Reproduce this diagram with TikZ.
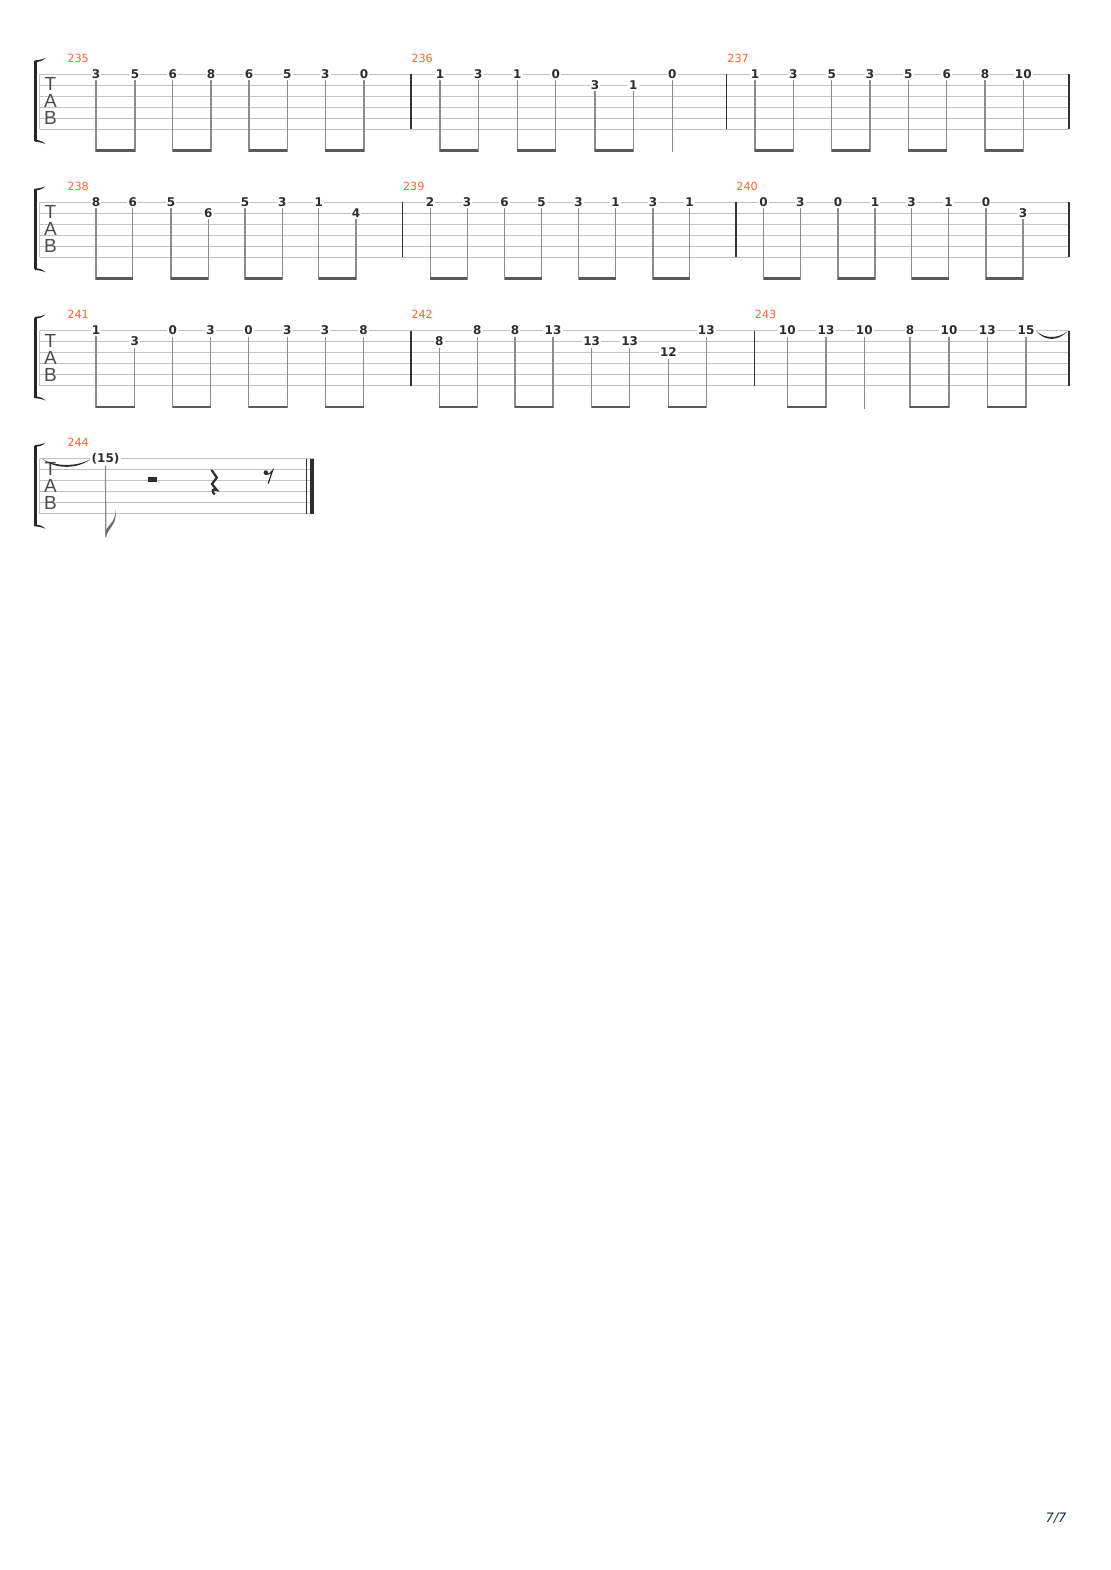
\documentclass[tikz,border=0pt]{standalone}
\usepackage{fontspec}
\setmainfont{DejaVu Sans}
\newfontfamily\tabfont{Liberation Sans}
\definecolor{barno}{RGB}{255,102,51}
\definecolor{fretink}{RGB}{45,45,45}
\definecolor{staffgray}{RGB}{195,195,195}
\definecolor{stemgray}{RGB}{140,140,140}
\definecolor{beamgray}{RGB}{90,90,90}
\definecolor{pageno}{RGB}{30,40,70}
\tikzset{
  fret/.style={font=\bfseries\fontsize{6}{7}\selectfont, text=fretink, fill=white, inner sep=0.6pt},
  barnum/.style={font=\fontsize{5.6}{6.5}\selectfont, text=barno, anchor=west, inner sep=0pt},
  tabletter/.style={font=\tabfont\fontsize{9.5}{10}\selectfont, text=black!70, inner sep=0pt},
  staffline/.style={staffgray, line width=0.5pt},
  stemline/.style={stemgray, line width=0.6pt},
  beamline/.style={beamgray, line width=1.3pt},
  barline/.style={black!80, line width=0.55pt},
  bracketline/.style={black!85, line width=1.4pt}
}
% one tab staff: #1 top line, #2 right end
\newcommand\tabstaff[2]{%
  \foreach \k in {0,...,5}
    \draw[staffline] (39.5,{#1+11*\k}) -- (#2,{#1+11*\k});
  \draw[staffline] (39.5,#1) -- (39.5,{#1+55});
  \draw[bracketline] (35.5,{#1-13}) -- (35.5,{#1+67});
  \fill[black!85] (34.8,{#1-13.7}) .. controls (38,{#1-13.7}) and (42,{#1-14.5}) .. (45.5,{#1-16}) .. controls (42,{#1-12.5}) and (38,{#1-12}) .. (34.8,{#1-12}) -- cycle;
  \fill[black!85] (34.8,{#1+67.7}) .. controls (38,{#1+67.7}) and (42,{#1+68.5}) .. (45.5,{#1+70}) .. controls (42,{#1+66.5}) and (38,{#1+66}) .. (34.8,{#1+66}) -- cycle;
  \node[tabletter] (T) at (50.5,{#1+10}) {T};
  \node[tabletter] (A) at (50.5,{#1+27}) {A};
  \node[tabletter] (B) at (50.5,{#1+44}) {B};
}
% beamed eighth pairs: #1 top line, #2 list x/string/fret/x/string/fret
\newcommand\notepairs[2]{%
  \foreach \xa/\sa/\fa/\xb/\sb/\fb in {#2} {
    \node[fret] (na) at (\xa,{#1+11*(\sa-1)}) {\fa};
    \node[fret] (nb) at (\xb,{#1+11*(\sb-1)}) {\fb};
    \draw[stemline] (na.south) -- (\xa,{#1+77.5}) coordinate (ba);
    \draw[stemline] (nb.south) -- (\xb,{#1+77.5}) coordinate (bb);
    \draw[beamline] ([yshift=0.6pt]ba) -- ([yshift=0.6pt]bb);
  }
}
% quarter note with plain stem
\newcommand\lonenote[4]{%
  \node[fret] (nq) at (#2,{#1+11*(#3-1)}) {#4};
  \draw[stemline] (nq.south) -- (#2,{#1+78}) coordinate (sq);
}
\begin{document}
\begin{tikzpicture}[x=0.5pt, y=-0.5pt]
\useasboundingbox (0,0) rectangle (1110,1570);
\fill[white] (0,0) rectangle (1110,1570);

% row 1
\tabstaff{74}{1069}
\foreach \bx in {411,726.7,1069} \draw[barline] (\bx,74) -- (\bx,129);
\node[barnum] (m235) at (67,58) {235};
\node[barnum] (m236) at (411,58) {236};
\node[barnum] (m237) at (727,58) {237};
\notepairs{74}{96/1/3/135/1/5, 172.7/1/6/211/1/8, 249/1/6/287.3/1/5, 325.3/1/3/364/1/0,
  440/1/1/478.3/1/3, 517.3/1/1/555.7/1/0, 595/2/3/633.3/2/1,
  755/1/1/793.3/1/3, 831.7/1/5/870/1/3, 908.3/1/5/946.7/1/6, 985/1/8/1023.3/1/10}
\lonenote{74}{672.3}{1}{0}

% row 2
\tabstaff{202.3}{1069}
\foreach \bx in {402.6,736,1069} \draw[barline] (\bx,202.3) -- (\bx,257.3);
\node[barnum] (m238) at (67,186.3) {238};
\node[barnum] (m239) at (402.6,186.3) {239};
\node[barnum] (m240) at (736,186.3) {240};
\notepairs{202.3}{96/1/8/132.7/1/6, 171/1/5/208.3/2/6, 245/1/5/282.3/1/3, 318.7/1/1/356/2/4,
  430.1/1/2/467.1/1/3, 504.6/1/6/541.6/1/5, 578.6/1/3/615.6/1/1, 653/1/3/689.6/1/1,
  763.6/1/0/800.2/1/3, 838/1/0/875/1/1, 911.6/1/3/948.6/1/1, 986/1/0/1023/2/3}

% row 3
\tabstaff{330.5}{1069}
\foreach \bx in {411,754.3,1069} \draw[barline] (\bx,330.5) -- (\bx,385.5);
\node[barnum] (m241) at (67,314.5) {241};
\node[barnum] (m242) at (411,314.5) {242};
\node[barnum] (m243) at (754.5,314.5) {243};
\notepairs{330.5}{96/1/1/134.8/2/3, 172.7/1/0/210.6/1/3, 248.5/1/0/287.2/1/3, 325.1/1/3/363.5/1/8,
  439.3/2/8/477.2/1/8, 515/1/8/553/1/13, 591.7/2/13/629.6/2/13, 668.4/3/12/706.3/1/13,
  787.3/1/10/826/1/13, 910/1/8/949/1/10, 987.3/1/13/1026/1/15}
\lonenote{330.5}{864.3}{1}{10}
\coordinate (tieA) at (1036,331);
\coordinate (tieB) at (1068,331);
\fill[fretink] (tieA) .. controls (1045,339) and (1058,339) .. (tieB) .. controls (1058,341.5) and (1045,341.5) .. (tieA) -- cycle;

% row 4
\tabstaff{458.7}{314}
\node[barnum] (m244) at (67,442.7) {244};
\coordinate (tieC) at (42,458.7);
\coordinate (tieD) at (91,458.7);
\fill[fretink] (tieC) .. controls (55,467) and (78,467) .. (tieD) .. controls (78,469.5) and (55,469.5) .. (tieC) -- cycle;
\node[fret] (held) at (105.5,458.7) {(15)};
\draw[stemline] (held.south) -- (105.8,537) coordinate (flagfoot);
\fill[stemgray!80!black] (flagfoot) .. controls (109,527) and (117.5,524) .. (115.5,510)
  .. controls (116,520) and (109,525) .. (105.8,530) -- cycle;
\fill[fretink] (147.5,477.3) rectangle (156.5,481.5);
\draw[fretink, line width=1.1pt, line join=miter] (211.5,470) -- (216.8,477.5) -- (212,484) -- (216.8,490)
  .. controls (212.5,488) and (211,491.5) .. (214.8,494.5);
\fill[fretink] (265.8,472.6) circle (2.3);
\draw[fretink, line width=0.6pt] (265.8,474.5) .. controls (268.5,474.8) and (271,473) .. (272.6,470.5) -- (268.2,483.5);
\draw[barline] (306.7,458.7) -- (306.7,513.7);
\draw[fretink, line width=2pt] (312,458.7) -- (312,513.7);

\node[font=\itshape\fontsize{6.5}{7}\selectfont, text=pageno] (pg) at (1056,1518) {7/7};
\end{tikzpicture}
\end{document}
